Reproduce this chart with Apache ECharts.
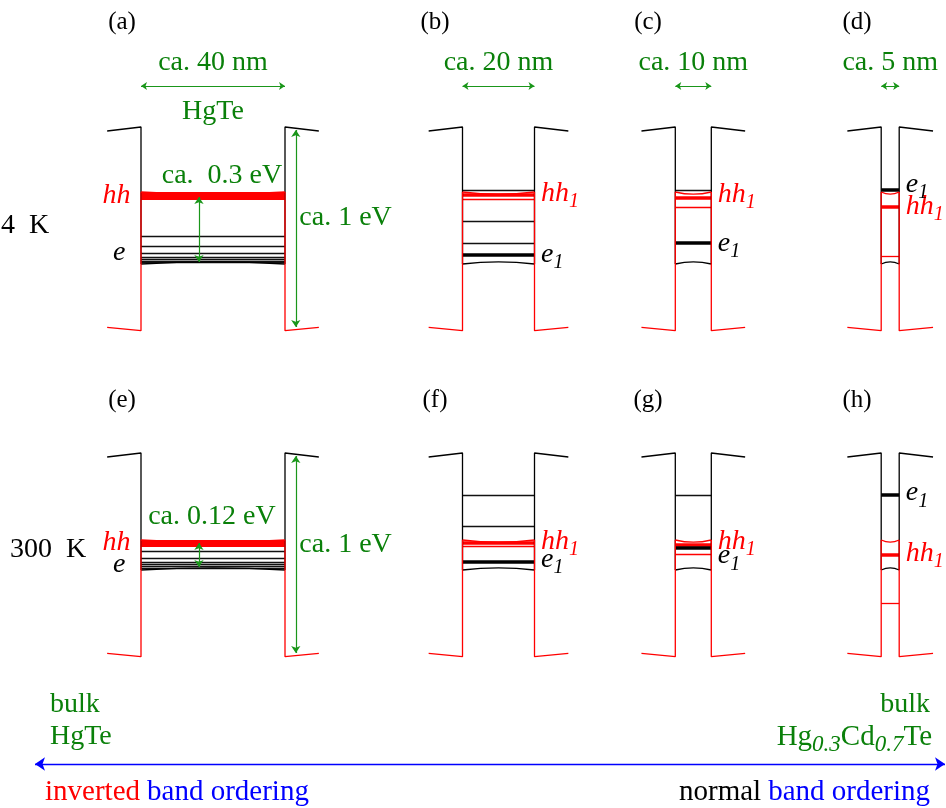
<!DOCTYPE html>
<html>
<head>
<meta charset="utf-8">
<script src="https://cdn.jsdelivr.net/npm/echarts@6/dist/echarts.min.js"></script>
<style>
  html, body { margin: 0; padding: 0; background: #fff; }
  #chart { width: 946px; height: 808px; }
</style>
</head>
<body>
<div id="chart"></div>
<script>
// ---- quantum-well data ----------------------------------------------------
// well widths (nm) for the four columns
const wellWidths = [40, 20, 10, 5];
const widthTexts = ['ca. 40 nm', 'ca. 20 nm', 'ca. 10 nm', 'ca. 5 nm'];
const panelTags = [['(a)', '(b)', '(c)', '(d)'], ['(e)', '(f)', '(g)', '(h)']];
const temperatures = ['4\u2002K', '300\u2002K'];

// band edges in eV; row 0 = 4 K, row 1 = 300 K
const gamma6Barrier = [0.995, 1.015];   // [far from well, at interface]
const gamma8Barrier = [0.0135, -0.0035];
const gamma6Well = [0.33, 0.43];
const gamma8Well = [0.69, 0.58];
const edgeBend = 0.011;                 // bending of the well edges at the centre

// ground subbands e1 / hh1 (eV); the 40 nm well is bulk-like (no single level)
const e1Level = [[null, 0.375, 0.4365, 0.70], [null, 0.4715, 0.54, 0.805]];
const hh1Level = [[null, 0.675, 0.6635, 0.6165], [null, 0.565, 0.5575, 0.5085]];

// further electron-like (black) and hole-like (red) subbands
const eLevels = [
  [[0.4665, 0.4165, 0.3835, 0.3625, 0.3525, 0.3435, 0.3375], [0.70, 0.545, 0.4335], [0.70], []],
  [[0.5215, 0.4885, 0.4685, 0.4585, 0.4465, 0.4385], [0.805, 0.65], [0.805], []]
];
const hhLevels = [
  [[0.684, 0.677, 0.670, 0.663, 0.656], [0.655], [0.6135], [0.37]],
  [[0.574, 0.567, 0.560, 0.553], [0.5465], [0.5085], [0.2635]]
];

// annotated energies (eV)
const gapArrow = [[0.665, 0.34], [0.565, 0.445]];
const gapTexts = ['ca.\u20020.3 eV', 'ca. 0.12 eV'];
const offsetArrow = [[1.0, 0.015], [1.0, 0.015]];
const offsetText = 'ca. 1 eV';

// ---- layout ----------------------------------------------------------------
const PX_PER_NM = 3.6, PX_PER_EV = 200;
const panelCenterX = [213, 498.5, 693.3, 890.2];
const panelHalfRange = [30, 30, 30, 15];   // nm shown either side of each well centre
const rowZeroY = [330, 656];
const E_MIN = -0.2, E_MAX = 1.6;
const STUB_NM = 9.4;

const SERIF = '"Liberation Serif", "Times New Roman", serif';
const RED = '#ff0000', BLACK = '#000000', GREEN = '#0a800a', BLUE = '#0000ff';
const ARROW_GREEN = '#1a961a';
const FS = 28;

// pixel nudges for the hh / e labels of each panel
const bandLabelDy = [[[4, -11], [-1.7, -0.5], [-3, 1], [0, -5.5]],
                     [[2.5, -5.5], [-1.5, -2], [-3, 8], [-1, -2]]];

const grids = [], xAxes = [], yAxes = [], series = [];

function axisPair(gi, xmin, xmax, ymin, ymax) {
  xAxes.push({ type: 'value', gridIndex: gi, min: xmin, max: xmax, show: false });
  yAxes.push({ type: 'value', gridIndex: gi, min: ymin, max: ymax, show: false });
}

function poly(gi, data, color, width, extra) {
  return Object.assign({
    type: 'line', xAxisIndex: gi, yAxisIndex: gi, data: data,
    symbol: 'none', silent: true, clip: false, z: 3,
    lineStyle: { color: color, width: width }
  }, extra || {});
}

function arrows(gi, segs, color, width, size) {
  return {
    type: 'lines', coordinateSystem: 'cartesian2d', xAxisIndex: gi, yAxisIndex: gi,
    symbol: ['arrow', 'arrow'], symbolSize: size, silent: true, z: 5,
    lineStyle: { color: color, width: width, opacity: 1, curveness: 0 },
    data: segs.map(s => ({ coords: s }))
  };
}

function textAt(gi, x, e, formatter, label, z) {
  return {
    type: 'scatter', xAxisIndex: gi, yAxisIndex: gi, silent: true, z: z || 6,
    symbolSize: 1, itemStyle: { color: 'rgba(0,0,0,0)', opacity: 1 },
    data: [[x, e]],
    label: Object.assign({ show: true, formatter: formatter }, label)
  };
}

function richFor(color) {
  return {
    m: { fontFamily: SERIF, fontStyle: 'italic', fontSize: FS, color: color },
    s: { fontFamily: SERIF, fontStyle: 'italic', fontSize: 20, color: color, padding: [17, 0, 0, 0] }
  };
}

for (let r = 0; r < 2; r++) {
  for (let p = 0; p < 4; p++) {
    const gi = r * 4 + p;
    const half = wellWidths[p] / 2;
    const range = panelHalfRange[p];
    const g6W = gamma6Well[r], g8W = gamma8Well[r];

    grids.push({
      left: panelCenterX[p] - range * PX_PER_NM,
      top: rowZeroY[r] - E_MAX * PX_PER_EV,
      width: 2 * range * PX_PER_NM,
      height: (E_MAX - E_MIN) * PX_PER_EV
    });
    axisPair(gi, -range, range, E_MIN, E_MAX);

    // subband levels
    const lv = [];
    eLevels[r][p].forEach(e => lv.push({ coords: [[-half, e], [half, e]], lineStyle: { color: '#111', width: 1.3 } }));
    hhLevels[r][p].forEach(e => lv.push({ coords: [[-half, e], [half, e]], lineStyle: { color: RED, width: p === 0 ? 2.2 : 1.3 } }));
    if (hh1Level[r][p] !== null) lv.push({ coords: [[-half, hh1Level[r][p]], [half, hh1Level[r][p]]], lineStyle: { color: RED, width: 3.5 } });
    if (e1Level[r][p] !== null) lv.push({ coords: [[-half, e1Level[r][p]], [half, e1Level[r][p]]], lineStyle: { color: BLACK, width: 3.5 } });
    series.push({
      type: 'lines', coordinateSystem: 'cartesian2d', xAxisIndex: gi, yAxisIndex: gi,
      symbol: ['none', 'none'], silent: true, z: 2,
      lineStyle: { opacity: 1 }, data: lv
    });

    // Gamma6 profile (black): barrier -> wall -> well edge
    series.push(poly(gi, [[-half - STUB_NM, gamma6Barrier[0]], [-half, gamma6Barrier[1]], [-half, g6W]], BLACK, 1.3));
    series.push(poly(gi, [[half, g6W], [half, gamma6Barrier[1]], [half + STUB_NM, gamma6Barrier[0]]], BLACK, 1.3));
    series.push(poly(gi, [[-half, g6W], [0, g6W + edgeBend], [half, g6W]], BLACK, 1.3, { smooth: true }));
    // Gamma8 profile (red)
    series.push(poly(gi, [[-half - STUB_NM, gamma8Barrier[0]], [-half, gamma8Barrier[1]], [-half, g8W]], RED, 1.3, { z: 4 }));
    series.push(poly(gi, [[half, g8W], [half, gamma8Barrier[1]], [half + STUB_NM, gamma8Barrier[0]]], RED, 1.3, { z: 4 }));
    series.push(poly(gi, [[-half, g8W], [0, g8W - edgeBend], [half, g8W]], RED, 1.3, { smooth: true, z: 4 }));

    // band labels
    const dy = bandLabelDy[r][p];
    if (p === 0) {
      series.push(textAt(gi, -half, g8W, 'hh', {
        position: 'left', distance: 10, offset: [0, dy[0]],
        fontFamily: SERIF, fontStyle: 'italic', fontSize: FS, color: RED
      }));
      series.push(textAt(gi, -half, g6W, 'e', {
        position: 'left', distance: 15, offset: [0, dy[1]],
        fontFamily: SERIF, fontStyle: 'italic', fontSize: FS, color: BLACK
      }));
    } else {
      series.push(textAt(gi, half, hh1Level[r][p], '{m|hh}{s|1}', {
        position: 'right', distance: 6, offset: [0, dy[0]], rich: richFor(RED)
      }));
      series.push(textAt(gi, half, e1Level[r][p], '{m|e}{s|1}', {
        position: 'right', distance: 6, offset: [0, dy[1]], rich: richFor(BLACK)
      }));
    }

    if (r === 0) {
      // well-width arrow and caption
      series.push(arrows(gi, [[[-half, 1.22], [half, 1.22]]], ARROW_GREEN, 1.2, 6));
      series.push(textAt(gi, 0, 1.335, widthTexts[p], {
        position: 'inside', fontFamily: SERIF, fontSize: FS, color: GREEN
      }));
      if (p === 0) {
        series.push(textAt(gi, 0, 1.09, 'HgTe', {
          position: 'inside', fontFamily: SERIF, fontSize: FS, color: GREEN
        }));
      }
    }

    if (p === 0) {
      // inverted gap and band-offset arrows
      series.push(arrows(gi, [[[-3.9, gapArrow[r][0]], [-3.9, gapArrow[r][1]]]], ARROW_GREEN, 1.2, 7));
      series.push(arrows(gi, [[[23, offsetArrow[r][0]], [23, offsetArrow[r][1]]]], ARROW_GREEN, 1.2, 7));
      series.push(textAt(gi, r === 0 ? 2.5 : -0.3, r === 0 ? 0.77 : 0.695, gapTexts[r], {
        position: 'inside', fontFamily: SERIF, fontSize: FS, color: GREEN
      }));
      series.push(textAt(gi, 23, r === 0 ? 0.56 : 0.555, offsetText, {
        position: 'right', distance: 3, fontFamily: SERIF, fontSize: FS, color: GREEN
      }));
    }
  }
}

// band-ordering axis along the bottom
const ORDER_GI = 8;
grids.push({ left: 35, width: 910, top: 754, height: 20 });
axisPair(ORDER_GI, 0, 1, -1, 1);
series.push(arrows(ORDER_GI, [[[0, 0], [1, 0]]], BLUE, 1.3, 10));

function gtext(x, y, text, align, style) {
  return {
    type: 'text', x: x, y: y, silent: true,
    style: Object.assign({
      text: text, fontFamily: SERIF, fontSize: FS, fill: BLACK,
      textAlign: align, align: align, textVerticalAlign: 'middle', verticalAlign: 'middle'
    }, style || {})
  };
}

const graphic = [];
const tagX = [122, 435, 648, 857];
const tagY = [22, 400];
panelTags.forEach((row, r) => row.forEach((t, p) => graphic.push(gtext(tagX[p], tagY[r], t, 'center', { fontSize: 25 }))));
graphic.push(gtext(1, 226, temperatures[0], 'left'));
graphic.push(gtext(10, 550, temperatures[1], 'left'));

graphic.push(gtext(50, 705, 'bulk', 'left', { fill: GREEN }));
graphic.push(gtext(50, 737, 'HgTe', 'left', { fill: GREEN }));
graphic.push(gtext(930, 705, 'bulk', 'right', { fill: GREEN }));
graphic.push(gtext(932, 737, '{n|Hg}{s|0.3}{n|Cd}{s|0.7}{n|Te}', 'right', {
  rich: {
    n: { fontFamily: SERIF, fontSize: 29, fill: GREEN },
    s: { fontFamily: SERIF, fontSize: 23, fontStyle: 'italic', fill: GREEN, padding: [16, 0, 0, 0] }
  }
}));
graphic.push(gtext(45, 792, '{r|inverted} {b|band ordering}', 'left', {
  rich: {
    r: { fontFamily: SERIF, fontSize: 29, fill: RED },
    b: { fontFamily: SERIF, fontSize: 29, fill: BLUE }
  }
}));
graphic.push(gtext(930, 792, '{k|normal} {b|band ordering}', 'right', {
  rich: {
    k: { fontFamily: SERIF, fontSize: 29, fill: BLACK },
    b: { fontFamily: SERIF, fontSize: 29, fill: BLUE }
  }
}));

const chart = echarts.init(document.getElementById('chart'), null, { renderer: 'canvas' });
chart.setOption({
  animation: false,
  backgroundColor: '#ffffff',
  grid: grids,
  xAxis: xAxes,
  yAxis: yAxes,
  series: series,
  graphic: graphic
});
</script>
</body>
</html>
